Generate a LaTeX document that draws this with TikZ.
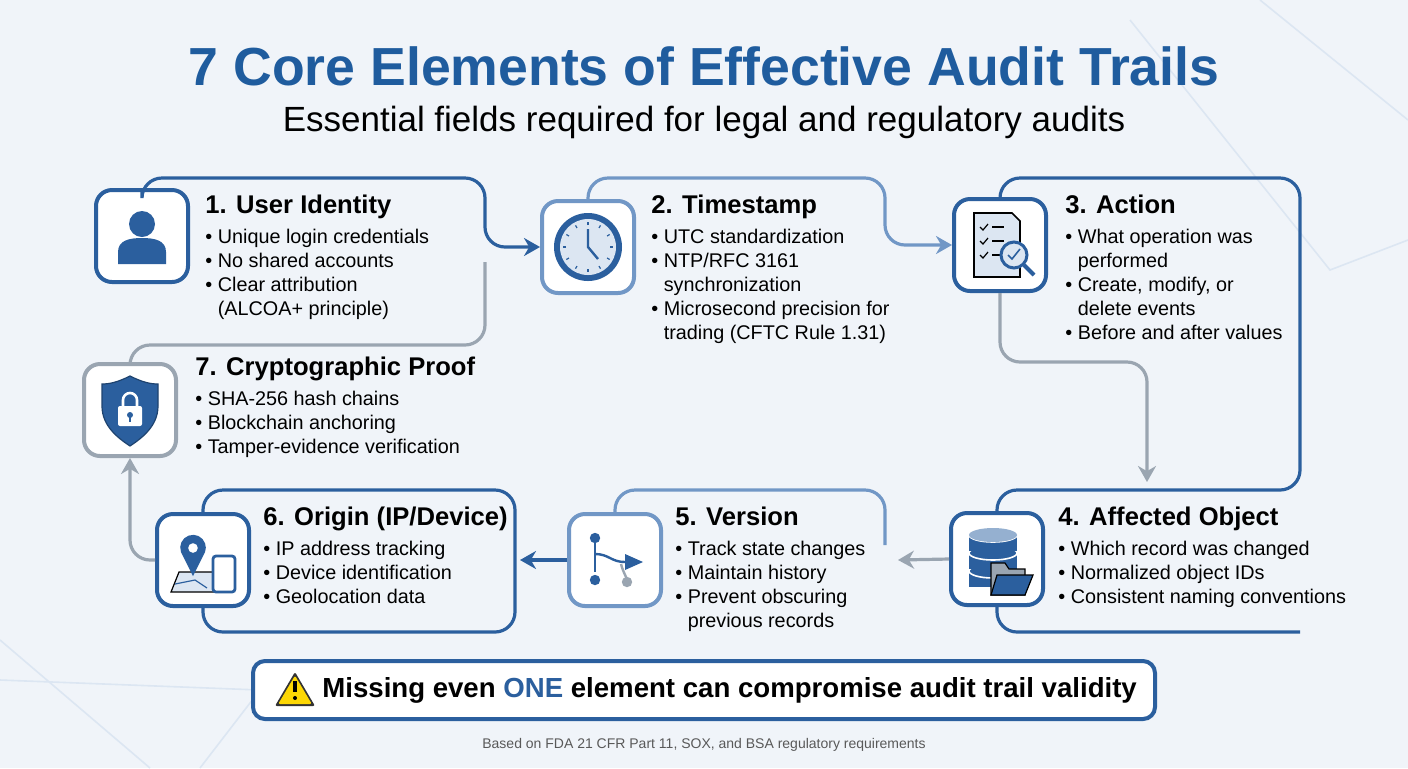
\documentclass[tikz,border=0pt]{standalone}
\usepackage{fontspec}
\setmainfont{Liberation Sans}
\usetikzlibrary{arrows.meta}
\definecolor{dkblue}{HTML}{2B5F9E}
\definecolor{mdblue}{HTML}{7197C6}
\definecolor{ltblue}{HTML}{DCE6F2}
\definecolor{grline}{HTML}{9AA5B1}
\definecolor{bgcol}{HTML}{F0F4F9}
\definecolor{titleblue}{HTML}{1F5C9E}
\tikzset{
  ibox/.style={draw, line width=2pt, fill=white, rounded corners=8pt, minimum size=46pt},
  head/.style={anchor=north west, inner sep=0pt, font=\bfseries\fontsize{12.8}{16}\selectfont},
  items/.style={anchor=north west, inner sep=0pt, align=left, font=\fontsize{9.9}{12}\selectfont},
  link/.style={line width=1.6pt, rounded corners=10pt},
  tip/.style={-{Stealth[length=8pt,width=9pt]}}
}
\newcommand{\bul}{\textbullet\ }
\begin{document}
\begin{tikzpicture}[x=0.5pt,y=-0.5pt]
\useasboundingbox (0,0) rectangle (1408,768);
\fill[bgcol] (0,0) rectangle (1408,768);
% faint background shapes
\draw[ltblue, line width=0.8pt] (1130,20) -- (1330,270) -- (1408,240);
\draw[ltblue, line width=0.8pt] (1260,0) -- (1408,120);
\draw[ltblue, line width=0.8pt] (0,640) -- (150,768);
\draw[ltblue, line width=0.8pt] (0,680) -- (260,690) -- (200,768);

% title
\node[font=\bfseries\fontsize{26.8}{32}\selectfont, text=titleblue] (title) at (704,66) {7 Core Elements of Effective Audit Trails};
\node[font=\fontsize{17.5}{20}\selectfont] (sub) at (704,122) {Essential fields required for legal and regulatory audits};

% icon boxes
\node[ibox, draw=dkblue] (U) at (142,236) {};
\node[ibox, draw=mdblue] (T) at (588,247) {};
\node[ibox, draw=dkblue] (A) at (1000,245) {};
\node[ibox, draw=dkblue] (O) at (997,559) {};
\node[ibox, draw=mdblue] (V) at (615,560) {};
\node[ibox, draw=dkblue] (G) at (203,560) {};
\node[ibox, draw=grline] (P) at (130,410) {};

% connector frames
\coordinate (c1) at (485,262);
\coordinate (c4) at (1147,482);
\coordinate (c5) at (898,560);
\coordinate (c6) at (520,560);
\draw[link, dkblue, tip] (U.north) |- (485,178) |- (T.west);
\draw[link, grline] (c1) |- (P.north |- 0,345) -- (P.north);
\draw[link, mdblue, tip] (T.north) |- (885,178) |- (A.west);
\draw[link, dkblue] (A.north) |- (1300,178) |- (O.north |- 0,490) -- (O.north);
\draw[link, grline, tip] (A.south) |- (1147,362) -- (c4);
\draw[link, dkblue] (O.south) |- (1300,632);
\draw[link, grline, tip] (O.west) -- (c5);
\draw[link, mdblue] (V.north) |- (885,490) -- (885,545);
\draw[link, dkblue, tip] (V.west) -- (c6);
\draw[link, dkblue] (G.north) |- (515,490) |- (G.south |- 0,632) -- (G.south);
\draw[link, grline, tip] (G.west) -| (P.south);

% texts
\node[head] (h1) at (205,195) {1. User Identity};
\node[items] (b1) at (205,229) {\bul Unique login credentials\\\bul No shared accounts\\\bul Clear attribution\\\phantom{\bul}(ALCOA+ principle)};
\node[head] (h2) at (651,195) {2. Timestamp};
\node[items] (b2) at (651,229) {\bul UTC standardization\\\bul NTP/RFC 3161\\\phantom{\bul}synchronization\\\bul Microsecond precision for\\\phantom{\bul}trading (CFTC Rule 1.31)};
\node[head] (h3) at (1065,195) {3. Action};
\node[items] (b3) at (1065,229) {\bul What operation was\\\phantom{\bul}performed\\\bul Create, modify, or\\\phantom{\bul}delete events\\\bul Before and after values};
\node[head] (h4) at (1058,507) {4. Affected Object};
\node[items] (b4) at (1058,541) {\bul Which record was changed\\\bul Normalized object IDs\\\bul Consistent naming conventions};
\node[head] (h5) at (675,507) {5. Version};
\node[items] (b5) at (675,541) {\bul Track state changes\\\bul Maintain history\\\bul Prevent obscuring\\\phantom{\bul}previous records};
\node[head] (h6) at (263,507) {6. Origin (IP/Device)};
\node[items] (b6) at (263,541) {\bul IP address tracking\\\bul Device identification\\\bul Geolocation data};
\node[head] (h7) at (195,357) {7. Cryptographic Proof};
\node[items] (b7) at (195,391) {\bul SHA-256 hash chains\\\bul Blockchain anchoring\\\bul Tamper-evidence verification};

% icons
\begin{scope}[shift={(U.center)}, x=1pt, y=1pt]
  \fill[dkblue] (0,6) circle (6.5);
  \fill[dkblue] (-12,-14) -- (-12,-8) .. controls (-12,-2) and (-6,-1) .. (0,-1) .. controls (6,-1) and (12,-2) .. (12,-8) -- (12,-14) -- cycle;
\end{scope}
\begin{scope}[shift={(T.center)}, x=1pt, y=1pt]
  \fill[dkblue] (0,0) circle (17);
  \fill[ltblue] (0,0) circle (14);
  \foreach \a in {0,30,...,330} \draw[dkblue, line width=0.6pt] (\a:11) -- (\a:12.5);
  \draw[dkblue, line width=1.2pt] (0,9) -- (0,0) -- (5,-6);
\end{scope}
\begin{scope}[shift={(A.center)}, x=1pt, y=1pt]
  \draw[fill=ltblue, line width=0.8pt] (-13,-16) -- (-13,16) -- (6,16) -- (10,12) -- (10,-16) -- cycle;
  \foreach \yy in {9,2,-5} {
    \draw[line width=0.6pt] (-10,\yy) -- (-8.5,\yy-1.5) -- (-6,\yy+1.5);
    \draw[line width=0.6pt] (-4,\yy) -- (2,\yy);
  }
  \draw[dkblue, line width=2pt] (12,-10) -- (17,-15);
  \draw[dkblue, line width=1.5pt, fill=ltblue] (7,-5) circle (6.5);
  \draw[dkblue, line width=0.8pt] (4,-5) -- (6,-7) -- (10,-2);
\end{scope}
\begin{scope}[shift={(O.center)}, x=1pt, y=1pt]
  \foreach \yy in {-14,-5,4} {
    \fill[dkblue] (-14,\yy) rectangle (10,\yy+8);
    \draw[white, line width=0.8pt, fill=dkblue] (-2,\yy+8) ellipse (12 and 3.5);
  }
  \fill[ltblue!60!dkblue] (-2,12) ellipse (12 and 3.5);
  \draw[line width=0.6pt, fill=grline] (-3,-18) -- (-3,-2) -- (4,-2) -- (6,-5) -- (14,-5) -- (14,-18) -- cycle;
  \draw[line width=0.6pt, fill=dkblue] (-3,-18) -- (0,-8) -- (18,-8) -- (14,-18) -- cycle;
\end{scope}
\begin{scope}[shift={(V.center)}, x=1pt, y=1pt]
  \draw[dkblue, line width=1.2pt] (-10,10) -- (-10,-6);
  \draw[dkblue, line width=1.2pt] (-10,3) .. controls (-3,3) and (-2,-1) .. (5,-1);
  \draw[grline, line width=1.2pt] (3,-2) .. controls (4,-6) and (6,-9) .. (6,-10);
  \fill[dkblue] (-10,11) circle (2.6);
  \fill[dkblue] (-10,-10) circle (2.6);
  \fill[grline] (6,-11) circle (2.6);
  \fill[dkblue] (5,3) -- (14,-1) -- (5,-5) -- cycle;
\end{scope}
\begin{scope}[shift={(G.center)}, x=1pt, y=1pt]
  \draw[line width=0.6pt, fill=ltblue] (-16,-16) -- (-12,-6) -- (6,-6) -- (10,-16) -- cycle;
  \draw[dkblue, line width=0.6pt] (-14,-12) -- (-4,-10) -- (2,-14);
  \fill[dkblue] (-5,-8) -- (-11,4) arc (200:-20:6.4) -- cycle;
  \fill[white] (-5,6) circle (2.4);
  \draw[dkblue, line width=1.4pt, fill=white, rounded corners=1.5pt] (5,-16) rectangle (16,2);
\end{scope}
\begin{scope}[shift={(P.center)}, x=1pt, y=1pt]
  \draw[dkblue!70!black, line width=0.6pt, fill=dkblue] (0,17) .. controls (6,14) and (10,13) .. (14,13) -- (14,2) .. controls (14,-8) and (6,-14) .. (0,-18) .. controls (-6,-14) and (-14,-8) .. (-14,2) -- (-14,13) .. controls (-10,13) and (-6,14) .. (0,17) -- cycle;
  \draw[white, line width=1.3pt] (-3.5,2) -- (-3.5,5) arc (180:0:3.5) -- (3.5,2);
  \fill[white, rounded corners=1pt] (-6,-8) rectangle (6,2);
  \fill[dkblue] (0,-2.5) circle (1.5);
  \fill[dkblue] (-0.7,-6) rectangle (0.7,-2.5);
\end{scope}

% warning
\node[draw=dkblue, line width=2pt, fill=white, rounded corners=6pt, minimum width=451pt, minimum height=29pt] (warn) at (704,690) {};
\node[font=\bfseries\fontsize{13.8}{17}\selectfont, anchor=west, inner sep=0pt] (wt) at (322,690) {Missing even \textcolor{dkblue}{ONE} element can compromise audit trail validity};
\begin{scope}[shift={(295,690)}, x=1pt, y=1pt]
  \fill[black!80, rounded corners=1pt] (0,9) -- (10,-8) -- (-10,-8) -- cycle;
  \fill[yellow!75!orange, rounded corners=1pt] (0,7.2) -- (8.4,-7) -- (-8.4,-7) -- cycle;
  \fill[black] (-0.9,-1) rectangle (0.9,4.5);
  \fill[black] (0,-4) circle (1);
\end{scope}
\node[font=\fontsize{7}{8}\selectfont, text=black!65] (foot) at (704,745) {Based on FDA 21 CFR Part 11, SOX, and BSA regulatory requirements};
\end{tikzpicture}
\end{document}
